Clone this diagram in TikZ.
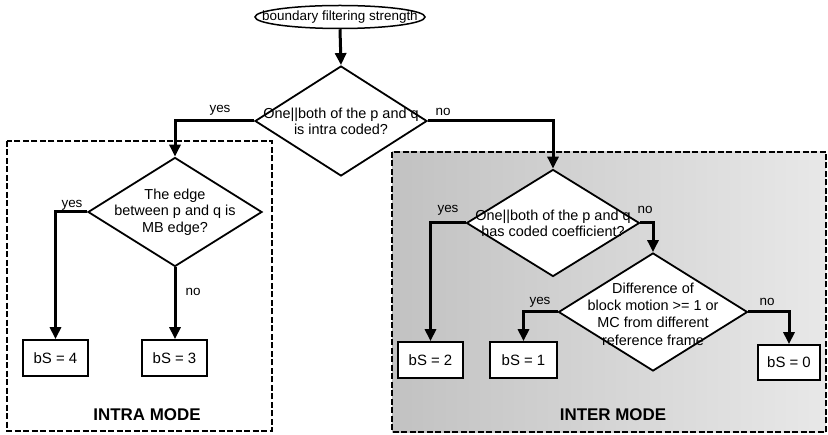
\documentclass[tikz,border=0pt]{standalone}
\usepackage{fontspec}
\setmainfont{Liberation Sans}
\usetikzlibrary{shapes.geometric,arrows.meta}
\begin{document}
\begin{tikzpicture}[x=1bp,y=-1bp,
  dia/.style={draw, line width=1.8bp, shape=diamond, fill=white, inner sep=0pt},
  txt/.style={align=center, inner sep=0pt, font=\fontsize{14.5}{16}\selectfont},
  lbl/.style={inner sep=0pt, font=\fontsize{13.5}{15}\selectfont},
  bx/.style={draw, line width=1.7bp, fill=white, inner sep=0pt, minimum width=65bp, minimum height=36bp, font=\fontsize{15}{16}\selectfont},
  conn/.style={line width=3bp, -{Triangle[length=12bp,width=11bp]}},
  region/.style={line width=1.7bp, dash pattern=on 6bp off 2.5bp},
  title/.style={inner sep=0pt, font=\fontsize{17}{20}\selectfont\bfseries}
]
\useasboundingbox (0,0) rectangle (828,435);
% regions
\draw[region] (7,141) rectangle (272,431);
\draw[region, left color=black!24, right color=black!9] (392,152) rectangle (826,432);
% start
\node[draw, ellipse, line width=1.5bp, minimum width=170bp, minimum height=23bp, inner sep=0pt] (start) at (340,17) {};
\node[txt, font=\fontsize{13.5}{16}\selectfont] (starttxt) at (start.center) {boundary filtering strength};
% diamonds
\node[dia, minimum width=172bp, minimum height=110bp] (d1) at (341,121) {};
\node[txt] (d1t) at (d1.center) {One||both of the p and q\\is intra coded?};
\node[dia, minimum width=174bp, minimum height=109bp] (d2) at (175,212) {};
\node[txt, font=\fontsize{14.5}{16.5}\selectfont] (d2t) at (d2.center) {The edge\\between p and q is\\MB edge?};
\node[dia, minimum width=173bp, minimum height=107bp] (d3) at (553,223) {};
\node[txt] (d3t) at (d3.center) {One||both of the p and q\\has coded coefficient?};
\node[dia, minimum width=189bp, minimum height=118bp] (d4) at (653,312) {};
\node[txt, font=\fontsize{14.5}{17.5}\selectfont] (d4t) at (653,314) {Difference of\\block motion >= 1 or\\MC from different\\reference frame};
% boxes
\node[bx] (b4) at (55.5,358) {bS = 4};
\node[bx] (b3) at (174.5,358) {bS = 3};
\node[bx] (b2) at (430.5,360) {bS = 2};
\node[bx, minimum width=67bp] (b1) at (523.5,360) {bS = 1};
\node[bx, minimum width=62bp, minimum height=35bp] (b0) at (789,362.5) {bS = 0};
% connectors
\draw[conn] (start.south) -- (d1.north);
\draw[conn] (d1.west) -| (d2.north);
\draw[conn] (d1.east) -| (d3.north);
\draw[conn] (d2.west) -| (b4.north);
\draw[conn] (d2.south) -- (d2.south |- b3.north);
\draw[conn] (d3.west) -| (b2.north);
\draw[conn] (d3.east) -| (d4.north);
\draw[conn] (d4.west) -| (b1.north);
\draw[conn] (d4.east) -| (b0.north);
% labels
\node[lbl] (y1) at (220,110) {yes};
\node[lbl] (n1) at (443,112) {no};
\node[lbl] (y2) at (72,205) {yes};
\node[lbl] (n2) at (193,292) {no};
\node[lbl] (y3) at (448,210) {yes};
\node[lbl] (n3) at (645,210) {no};
\node[lbl] (y4) at (540,302) {yes};
\node[lbl] (n4) at (767,302) {no};
\node[title] (intra) at (147,415) {INTRA MODE};
\node[title] (inter) at (613,415) {INTER MODE};
\end{tikzpicture}
\end{document}
